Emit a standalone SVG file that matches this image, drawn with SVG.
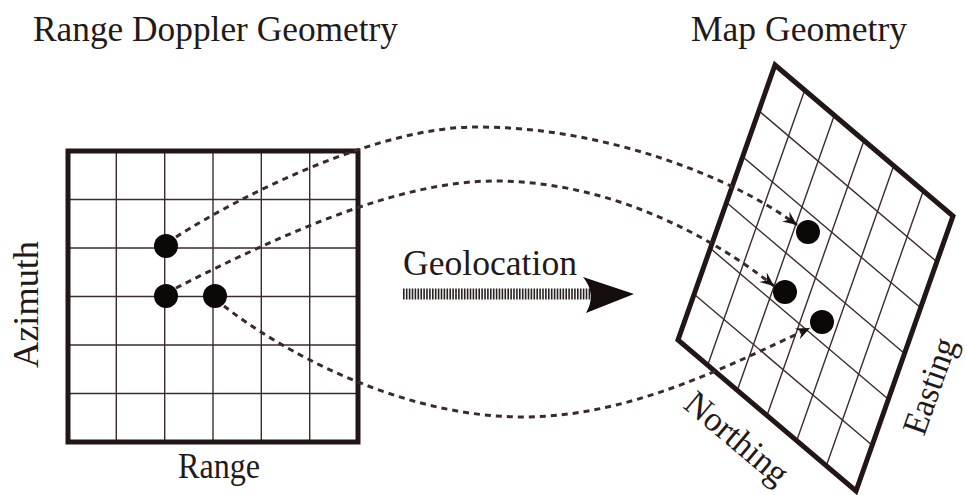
<svg xmlns="http://www.w3.org/2000/svg" width="967" height="495" viewBox="0 0 967 495">
<style>
.t{font-family:"Liberation Serif","Times New Roman",serif;fill:#241919;font-size:35px}
.border{fill:none;stroke:#231616;stroke-width:5;stroke-linejoin:miter}
.grid{stroke:#3d2a2c;stroke-width:1.4;fill:none}
.dot{fill:#0d0808}
.conn{fill:none;stroke:#3a2a2a;stroke-width:3;stroke-dasharray:6 5}
</style>
<defs>
<marker id="ah" viewBox="-15 -7 17 14" refX="0" refY="0" markerWidth="17" markerHeight="14" markerUnits="userSpaceOnUse" orient="auto">
<path d="M0,0 L-14,-6 L-9,0 L-14,6 Z" fill="#1a1010"/>
</marker>
</defs>
<rect width="967" height="495" fill="#ffffff"/>

<g id="title-left"><text class="t" x="33" y="41" textLength="365" lengthAdjust="spacingAndGlyphs">Range Doppler Geometry</text></g>
<g id="title-right"><text class="t" x="691" y="41" textLength="216" lengthAdjust="spacingAndGlyphs">Map Geometry</text></g>

<g id="range-doppler-grid">
<g class="grid">
<line x1="116.3" y1="151" x2="116.3" y2="442"/>
<line x1="164.7" y1="151" x2="164.7" y2="442"/>
<line x1="213" y1="151" x2="213" y2="442"/>
<line x1="261.3" y1="151" x2="261.3" y2="442"/>
<line x1="309.7" y1="151" x2="309.7" y2="442"/>
<line x1="68" y1="199.5" x2="358" y2="199.5"/>
<line x1="68" y1="248" x2="358" y2="248"/>
<line x1="68" y1="296.5" x2="358" y2="296.5"/>
<line x1="68" y1="345" x2="358" y2="345"/>
<line x1="68" y1="393.5" x2="358" y2="393.5"/>
</g>
<rect class="border" x="68" y="151" width="290" height="291"/>
<circle class="dot" cx="166" cy="246" r="12"/>
<circle class="dot" cx="166" cy="296" r="12"/>
<circle class="dot" cx="215" cy="296" r="12"/>
</g>
<g id="label-azimuth"><text class="t" transform="translate(38,368) rotate(-90)" textLength="127" lengthAdjust="spacingAndGlyphs">Azimuth</text></g>
<g id="label-range"><text class="t" x="178" y="478" textLength="82" lengthAdjust="spacingAndGlyphs">Range</text></g>

<g id="map-grid">
<g class="grid">
<line x1="758.83" y1="110.83" x2="936.83" y2="261.83"/>
<line x1="742.67" y1="156.67" x2="920.67" y2="307.67"/>
<line x1="726.5" y1="202.5" x2="904.5" y2="353.5"/>
<line x1="710.33" y1="248.33" x2="888.33" y2="399.33"/>
<line x1="694.17" y1="294.17" x2="872.17" y2="445.17"/>
<line x1="804.67" y1="90.17" x2="707.67" y2="365.17"/>
<line x1="834.33" y1="115.33" x2="737.33" y2="390.33"/>
<line x1="864" y1="140.5" x2="767" y2="415.5"/>
<line x1="893.67" y1="165.67" x2="796.67" y2="440.67"/>
<line x1="923.33" y1="190.83" x2="826.33" y2="465.83"/>
</g>
<polygon class="border" stroke-width="4" points="775,65 953,216 856,491 678,340"/>
<circle class="dot" cx="808" cy="232" r="12"/>
<circle class="dot" cx="785" cy="292" r="12"/>
<circle class="dot" cx="822" cy="322" r="12"/>
</g>
<g id="label-northing"><text class="t" font-size="34" transform="translate(682,407) rotate(40)" textLength="124" lengthAdjust="spacingAndGlyphs">Northing</text></g>
<g id="label-easting"><text class="t" font-size="32" transform="translate(924,437) rotate(-70.6)" textLength="100" lengthAdjust="spacingAndGlyphs">Easting</text></g>

<g id="geolocation">
<text class="t" x="403" y="275" textLength="174" lengthAdjust="spacingAndGlyphs">Geolocation</text>
<line x1="403" y1="294" x2="592" y2="294" stroke="#2a2020" stroke-width="11" stroke-dasharray="1.6 1.3"/>
<path d="M583,277 L634,294 L586,313 Q597,294 583,277 Z" fill="#150d0d"/>
</g>

<g id="connectors">
<path class="conn" marker-end="url(#ah)" d="M176,237 C250,190 380,128 473,127 C600,126 730,175 797,225"/>
<path class="conn" marker-end="url(#ah)" d="M176,288 C280,235 400,180 497,181 C610,182 710,235 774,286"/>
<path class="conn" marker-end="url(#ah)" d="M224,306 C280,350 400,417 523,417 C630,417 730,365 810,328"/>
</g>
</svg>
